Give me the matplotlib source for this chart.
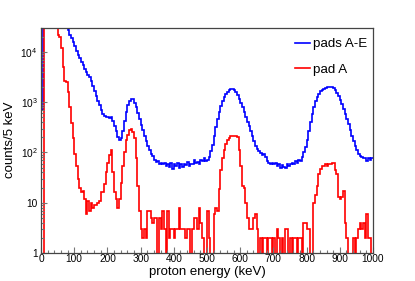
import numpy as np
import matplotlib
matplotlib.use("Agg")
import matplotlib.pyplot as plt
from matplotlib.ticker import FixedLocator, FixedFormatter, MultipleLocator

plt.rcParams['font.family'] = ['Liberation Sans', 'DejaVu Sans']
plt.rcParams['mathtext.fontset'] = 'custom'
plt.rcParams['mathtext.rm'] = 'Liberation Sans'

# histogram: 5 keV bins from 0 to 1000 keV
bin_width = 5
edges = np.arange(0, 1000 + bin_width, bin_width)

# pads A-E (counts per 5 keV bin), rows of 100 keV
pads_AE = [
    700] + [50000] * 15 + [28000, 22000, 19000, 16000,
    13000, 10700, 8900, 7600, 6300, 5500, 4600, 4000, 3500, 3200, 2600, 2100, 1660, 1320, 1050, 870, 710, 575, 525, 500,
    513, 490, 500, 417, 331, 263, 200, 174, 190, 263, 417, 630, 890, 1050, 1175, 1150, 955, 795, 600, 457,
    347, 275, 209, 166, 132, 112, 95, 85, 72, 66, 69, 60, 63, 58, 62, 55, 59, 52, 63, 48,
    60, 55, 63, 50, 58, 52, 60, 56, 66, 55, 60, 58, 71, 63, 66, 60, 72, 68, 76, 69,
    72, 83, 105, 141, 209, 316, 457, 631, 832, 1047, 1259, 1445, 1622, 1738, 1820, 1820, 1738, 1585, 1380, 1175,
    955, 794, 631, 501, 398, 331, 263, 209, 166, 132, 115, 105, 98, 91, 93, 83, 69, 63, 60, 63,
    58, 62, 55, 59, 50, 56, 52, 50, 58, 54, 60, 63, 58, 68, 63, 72, 69, 83, 100, 126,
    174, 263, 398, 575, 794, 1047, 1259, 1479, 1660, 1778, 1862, 1950, 1995, 2040, 2040, 1995, 1905, 1738, 1549, 1318,
    1096, 912, 724, 575, 457, 363, 275, 209, 166, 132, 110, 95, 87, 83, 79, 76, 69, 79, 71, 79,
]

# pad A
pad_A = [
    0, 0] + [50000] * 8 + [22000, 20000, 12000, 5000, 2600, 2500, 1600, 800, 380, 190,
    95, 55, 30, 20, 16, 17, 12, 6, 11, 7, 10, 8, 9, 9, 10, 11, 16, 16, 24, 40,
    62, 90, 112, 40, 16, 12, 8, 12, 25, 55, 100, 174, 220, 280, 290, 250, 190, 76, 22, 7,
    3, 2, 3, 2, 7, 7, 5, 4, 5, 5, 0, 5, 3, 7, 3, 0, 7, 2, 3, 3,
    2, 3, 3, 8, 3, 3, 3, 2, 3, 3, 0, 3, 5, 5, 3, 8, 4, 2, 0, 0,
    7, 2, 0, 0, 6, 8, 7, 19, 44, 76, 110, 150, 174, 190, 210, 210, 210, 210, 200, 110,
    55, 22, 20, 10, 5, 3, 3, 3, 5, 6, 3, 0, 2, 0, 2, 2, 0, 2, 2, 0,
    2, 0, 3, 2, 0, 2, 0, 3, 3, 0, 2, 0, 2, 2, 0, 2, 2, 0, 4, 4,
    3, 3, 0, 0, 10, 14, 22, 38, 48, 55, 55, 58, 55, 58, 60, 63, 63, 44, 38, 13,
    12, 13, 17, 4, 2, 0, 0, 0, 2, 0, 2, 3, 4, 3, 4, 2, 6, 2, 2, 0,
]

y_min, y_max = 1, 3.0e4
y_ticks = [1, 10, 100, 1000, 10000]
y_ticklabels = ['1', '10', r'$10^{2}$', r'$10^{3}$', r'$10^{4}$']


def for_log(v):
    # empty bins drop below the axis, overflowing bins run along the top
    v = np.asarray(v, dtype=float)
    v = np.where(v > 0, v, 0.1)
    return np.minimum(v, y_max)


fig = plt.figure(figsize=(4.15, 2.81), dpi=100)
ax = fig.add_axes([41 / 415, 1 - 253 / 281, 332 / 415, 225 / 281])

ax.stairs(for_log(pads_AE), edges, baseline=None, color='#0000ff', lw=1.2, label='pads A-E')
ax.stairs(for_log(pad_A), edges, baseline=None, color='#ff0000', lw=1.2, label='pad A')

ax.set_yscale('log')
ax.set_xlim(0, 1000)
ax.set_ylim(y_min, y_max)

ax.xaxis.set_major_locator(MultipleLocator(100))
ax.xaxis.set_minor_locator(MultipleLocator(20))
ax.yaxis.set_major_locator(FixedLocator(y_ticks))
ax.yaxis.set_major_formatter(FixedFormatter(y_ticklabels))
minor = [m * 10 ** e for e in range(0, 5) for m in range(2, 10)]
ax.yaxis.set_minor_locator(FixedLocator(minor))
ax.yaxis.set_minor_formatter(FixedFormatter([''] * len(minor)))

ax.tick_params(which='both', direction='in', top=False, right=False,
               color='#777777', labelsize=7.3, labelcolor='black')
ax.tick_params(which='major', length=4.3, width=0.8)
ax.tick_params(which='minor', length=2.2, width=0.8)
ax.tick_params(axis='x', pad=1)
ax.tick_params(axis='y', pad=2.5)
for s in ax.spines.values():
    s.set_color('#444444')
    s.set_linewidth(0.9)

ax.set_xlabel('proton energy (keV)', fontsize=9.5)
ax.xaxis.set_label_coords(0.5, -0.058)
ax.set_ylabel('counts/5 keV', fontsize=9.5)
ax.yaxis.set_label_coords(-0.074, 0.505)

ax.legend(loc='upper right', frameon=False, fontsize=9.6,
          bbox_to_anchor=(367 / 415, 1 - 38 / 281), bbox_transform=fig.transFigure,
          borderpad=0, borderaxespad=0, handlelength=1.15, handletextpad=0.2,
          labelspacing=1.0)

fig.savefig('out.png', dpi=100)
